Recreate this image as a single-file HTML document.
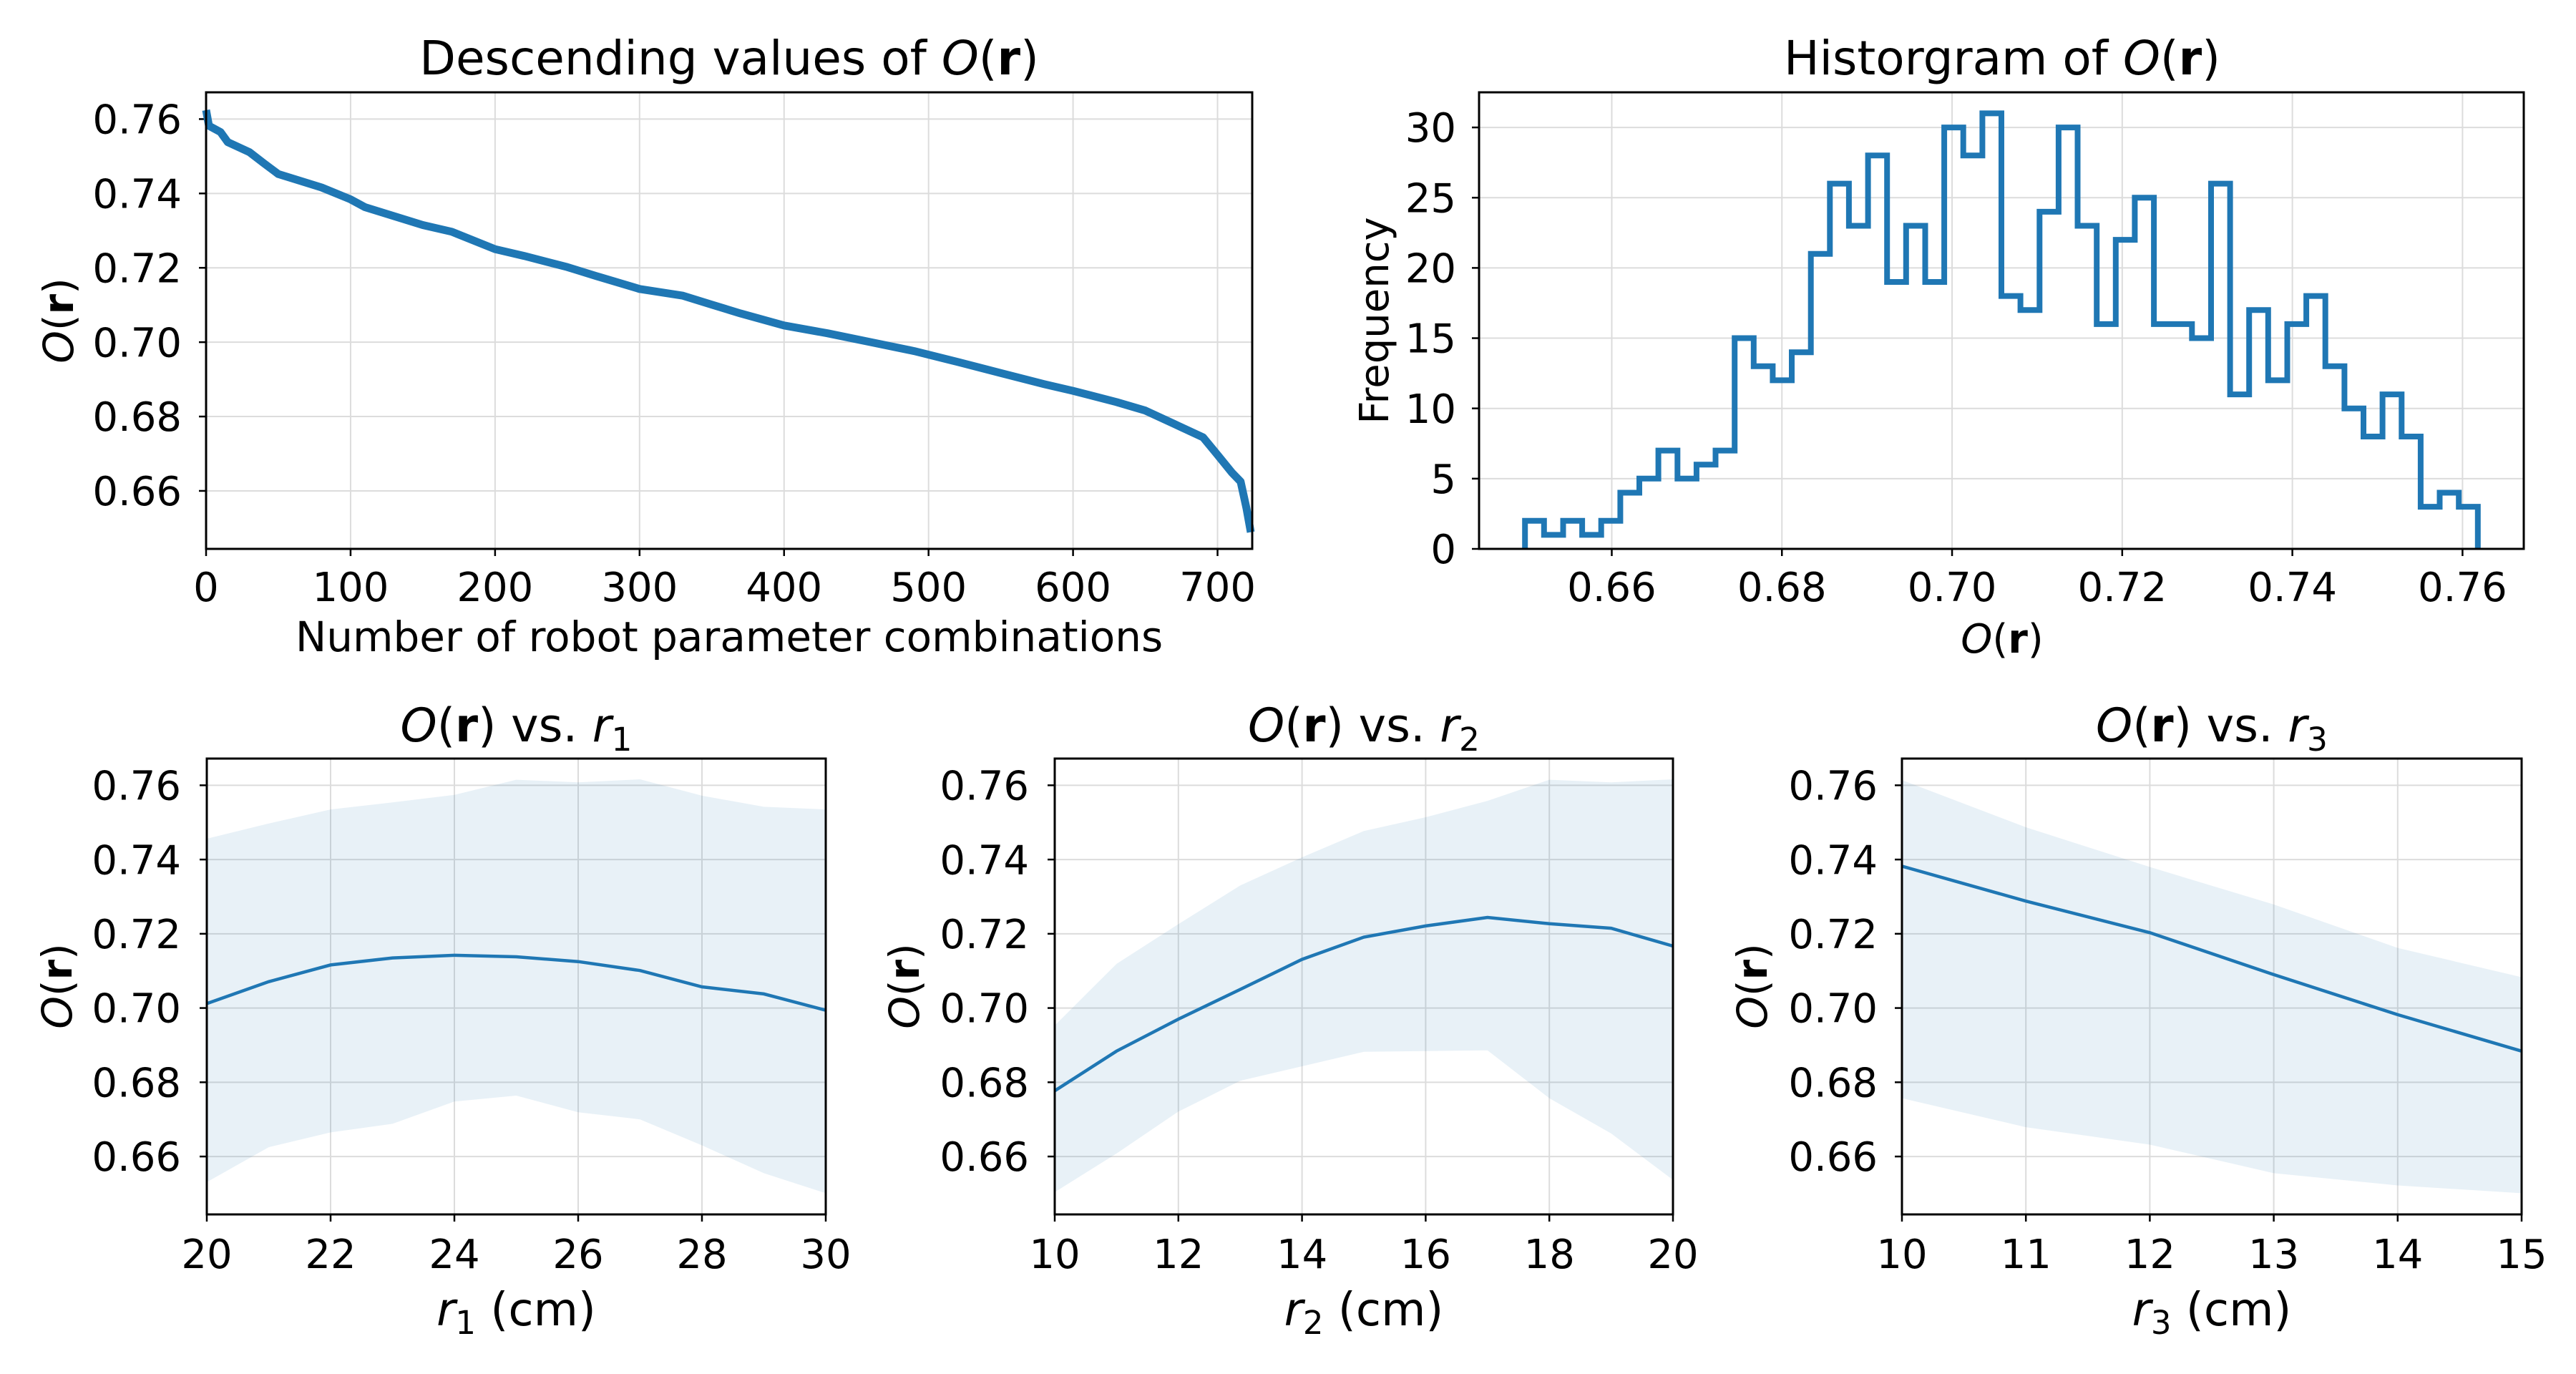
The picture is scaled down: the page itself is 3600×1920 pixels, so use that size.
<!DOCTYPE html>
<html><head><meta charset="utf-8"><style>
html,body{margin:0;padding:0;background:#fff;}
svg{display:block;font-family:"DejaVu Sans","Liberation Sans",sans-serif;}
</style></head><body>
<svg id="fig" width="3600" height="1920" viewBox="0 0 3600 1920" xmlns="http://www.w3.org/2000/svg"></svg>
<script>
// ---------- data ----------
const descIdx = [0,2,10,15,30,40,50,60,80,100,110,130,150,170,200,220,250,270,300,330,350,370,400,430,460,490,520,550,580,600,630,650,670,690,700,710,716,720,723];
const descVal = [0.7624,0.7582,0.7565,0.7538,0.7511,0.7481,0.7452,0.7440,0.7416,0.7384,0.7363,0.7339,0.7315,0.7297,0.7250,0.7232,0.7202,0.7178,0.7143,0.7125,0.7101,0.7077,0.7045,0.7024,0.7000,0.6976,0.6947,0.6917,0.6887,0.6869,0.6839,0.6816,0.6780,0.6744,0.6697,0.6649,0.6625,0.6554,0.6489];
const histCounts = [2,1,2,1,2,4,5,7,5,6,7,15,13,12,14,21,26,23,28,19,23,19,30,28,31,18,17,24,30,23,16,22,25,16,16,15,26,11,17,12,16,18,13,10,8,11,8,3,4,3];
const histStart = 0.6498;
const histBinWidth = 0.00224;

const r1 = [20,21,22,23,24,25,26,27,28,29,30];
const r1Mean = [0.7012,0.7071,0.7116,0.7135,0.7142,0.7138,0.7125,0.7101,0.7057,0.7038,0.6994];
const r1Upper = [0.7456,0.7497,0.7535,0.7554,0.7574,0.7615,0.7608,0.7616,0.7572,0.7542,0.7535];
const r1Lower = [0.6531,0.6625,0.6665,0.6688,0.6748,0.6764,0.6719,0.6700,0.6630,0.6555,0.6501];

const r2 = [10,11,12,13,14,15,16,17,18,19,20];
const r2Mean = [0.6777,0.6884,0.6970,0.7050,0.7131,0.7191,0.7221,0.7244,0.7227,0.7215,0.7167];
const r2Upper = [0.6953,0.7119,0.7226,0.7330,0.7406,0.7477,0.7514,0.7558,0.7615,0.7608,0.7616];
const r2Lower = [0.6504,0.6608,0.6721,0.6804,0.6843,0.6882,0.6884,0.6886,0.6757,0.6662,0.6537];

const r3 = [10,11,12,13,14,15];
const r3Mean = [0.7382,0.7288,0.7203,0.7090,0.6982,0.6884];
const r3Upper = [0.7614,0.7487,0.7380,0.7279,0.7162,0.7083];
const r3Lower = [0.6757,0.6679,0.6632,0.6555,0.6522,0.6501];

const oTicks = [0.66,0.68,0.70,0.72,0.74,0.76];
const oTickLabels = ["0.66","0.68","0.70","0.72","0.74","0.76"];
const idxTicks = [0,100,200,300,400,500,600,700];
const freqTicks = [0,5,10,15,20,25,30];
const r1Ticks = [20,22,24,26,28,30];
const r2Ticks = [10,12,14,16,18,20];
const r3Ticks = [10,11,12,13,14,15];

// ---------- helpers ----------
const NS = "http://www.w3.org/2000/svg";
const svg = document.getElementById('fig');
function el(tag, attrs, parent){
  const e = document.createElementNS(NS, tag);
  for (const k in attrs) e.setAttribute(k, attrs[k]);
  (parent||svg).appendChild(e);
  return e;
}
function lin(d0,d1,p0,p1){ return v => p0 + (v-d0)/(d1-d0)*(p1-p0); }
const BLUE = "#1f77b4";

function makeAxes(name){
  const g = el('g', {});
  
  
  return g;
}
function gridAndTicks(g, L, R, T, B, xs, xTicks, xLabels, ys, yTicks, yLabels, fs, xLabY, yLabX){
  xTicks.forEach((t,i)=>{
    const x = xs(t);
    const gl = el('line',{x1:x,x2:x,y1:T,y2:B,stroke:"#dcdcdc","stroke-width":2},g);
    
    
    el('line',{x1:x,x2:x,y1:B,y2:B+10,stroke:"#000","stroke-width":2.5},g);
    const tx = el('text',{x:x,y:xLabY,"text-anchor":"middle","font-size":fs,fill:"#000"},g);
    tx.textContent = xLabels[i];
    
    
  });
  yTicks.forEach((t,i)=>{
    const y = ys(t);
    const gl = el('line',{x1:L,x2:R,y1:y,y2:y,stroke:"#dcdcdc","stroke-width":2},g);
    
    
    el('line',{x1:L-10,x2:L,y1:y,y2:y,stroke:"#000","stroke-width":2.5},g);
    const tx = el('text',{x:yLabX,y:y+fs*0.36,"text-anchor":"end","font-size":fs,fill:"#000"},g);
    tx.textContent = yLabels[i];
    
    
  });
}
function frame(g,L,R,T,B){
  const f = el('rect',{x:L,y:T,width:R-L,height:B-T,fill:"none",stroke:"#000","stroke-width":3},g);
  
  
}
function Or(parent, x, y, fs, anchor, extra, name){
  const t = el('text',{x:x,y:y,"text-anchor":anchor||"middle","font-size":fs,fill:"#000"},parent);
  
  
  if (extra && extra.pre){ const s=el('tspan',{},t); s.textContent=extra.pre; }
  let s = el('tspan',{"font-style":"italic"},t); s.textContent="O";
  s = el('tspan',{},t); s.textContent="(";
  s = el('tspan',{"font-weight":"bold"},t); s.textContent="r";
  s = el('tspan',{},t); s.textContent=")";
  if (extra && extra.post){ s=el('tspan',{},t); s.textContent=extra.post; }
  if (extra && extra.sub){
    s=el('tspan',{"font-style":"italic"},t); s.textContent="r";
    s=el('tspan',{"font-size":fs*0.7,dy:fs*0.2},t); s.textContent=extra.sub;
  }
  return t;
}
function yLabelOr(g, x, cy, fs){
  const t = Or(g, 0, 0, fs, "middle", null, 'y-axis-title');
  t.setAttribute('transform',`translate(${x},${cy}) rotate(-90)`);
}
const oDom = [0.6444, 0.7672];

// ---------- Panel A: descending ----------
(function(){
  const L=288,R=1750,T=129,B=767;
  const g = makeAxes('descending-values-chart');
  const xs = lin(0,724,L,R), ys = lin(oDom[0],oDom[1],B,T);
  gridAndTicks(g,L,R,T,B,xs,idxTicks,idxTicks.map(String),ys,oTicks,oTickLabels,56,840,254);
  let d = descIdx.map((v,i)=>(i?'L':'M')+xs(v).toFixed(1)+','+ys(descVal[i]).toFixed(1)).join(' ');
  const p = el('path',{d:d,fill:"none",stroke:BLUE,"stroke-width":11,"stroke-linejoin":"round"},g);
  
  
  frame(g,L,R,T,B);
  Or(g,1019,104,66,"middle",{pre:"Descending values of "},'chart-title');
  const xl = el('text',{x:1019,y:910,"text-anchor":"middle","font-size":58,fill:"#000"},g);
  xl.textContent="Number of robot parameter combinations";
  
  
  yLabelOr(g,102,448,58);
})();

// ---------- Panel B: histogram ----------
(function(){
  const L=2067,R=3527,T=129,B=767;
  const g = makeAxes('histogram-chart');
  const xs = lin(oDom[0],oDom[1],L,R), ys = lin(0,32.5,B,T);
  gridAndTicks(g,L,R,T,B,xs,oTicks,oTickLabels,ys,freqTicks,freqTicks.map(String),56,840,2035);
  let d = 'M'+xs(histStart).toFixed(1)+','+ys(0).toFixed(1);
  histCounts.forEach((c,i)=>{
    const x0 = xs(histStart+i*histBinWidth), x1 = xs(histStart+(i+1)*histBinWidth);
    d += ' L'+x0.toFixed(1)+','+ys(c).toFixed(1)+' L'+x1.toFixed(1)+','+ys(c).toFixed(1);
  });
  d += ' L'+xs(histStart+histCounts.length*histBinWidth).toFixed(1)+','+ys(0).toFixed(1);
  const p = el('path',{d:d,fill:"none",stroke:BLUE,"stroke-width":8,"stroke-linejoin":"miter"},g);
  
  
  frame(g,L,R,T,B);
  Or(g,2798,104,66,"middle",{pre:"Historgram of "},'chart-title');
  Or(g,2798,912,56,"middle",null,'x-axis-title');
  const yl = el('text',{x:0,y:0,"text-anchor":"middle","font-size":56,fill:"#000",transform:"translate(1940,448) rotate(-90)"},g);
  yl.textContent="Frequency";
  
  
})();

// ---------- Bottom panels ----------
function bandPanel(name, L, R, xDom, xTicks, xv, mean, up, lo, sub, tickRight, ylabX){
  const T=1060,B=1697;
  const g = makeAxes(name);
  const xs = lin(xDom[0],xDom[1],L,R), ys = lin(oDom[0],oDom[1],B,T);
  let d = xv.map((v,i)=>(i?'L':'M')+xs(v).toFixed(1)+','+ys(up[i]).toFixed(1)).join(' ');
  for (let i=xv.length-1;i>=0;i--) d += ' L'+xs(xv[i]).toFixed(1)+','+ys(lo[i]).toFixed(1);
  d += ' Z';
  gridAndTicks(g,L,R,T,B,xs,xTicks,xTicks.map(String),ys,oTicks,oTickLabels,56,1772,tickRight);
  const band = el('path',{d:d,fill:BLUE,"fill-opacity":0.1,stroke:"none"},g);
  
  
  const ln = el('path',{d:xv.map((v,i)=>(i?'L':'M')+xs(v).toFixed(1)+','+ys(mean[i]).toFixed(1)).join(' '),fill:"none",stroke:BLUE,"stroke-width":4.5},g);
  
  
  frame(g,L,R,T,B);
  const cx=(L+R)/2;
  Or(g,cx,1036,65,"middle",{post:" vs. ",sub:sub},'chart-title');
  const xl = el('text',{x:cx,y:1852,"text-anchor":"middle","font-size":64,fill:"#000"},g);
  
  
  let s=el('tspan',{"font-style":"italic"},xl); s.textContent="r";
  s=el('tspan',{"font-size":45,dy:12},xl); s.textContent=sub;
  s=el('tspan',{dy:-12},xl); s.textContent=" (cm)";
  yLabelOr(g,ylabX,1378,58);
}
bandPanel('r1-chart',289,1154,[20,30],r1Ticks,r1,r1Mean,r1Upper,r1Lower,"1",253,100);
bandPanel('r2-chart',1474,2338,[10,20],r2Ticks,r2,r2Mean,r2Upper,r2Lower,"2",1438,1284);
bandPanel('r3-chart',2658,3524,[10,15],r3Ticks,r3,r3Mean,r3Upper,r3Lower,"3",2624,2469);
</script>
</body></html>
